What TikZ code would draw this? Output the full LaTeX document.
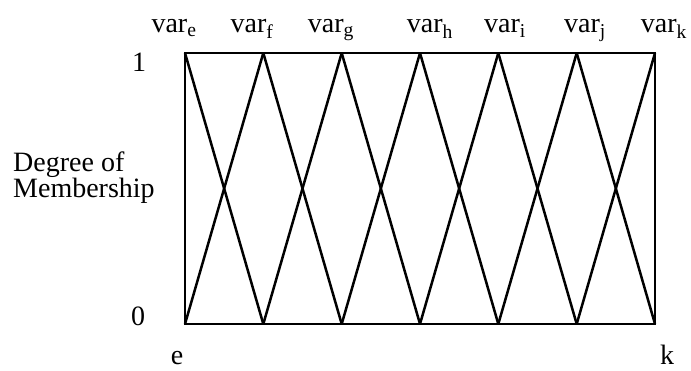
\documentclass[tikz,border=0pt]{standalone}
\usepackage{fontspec}
\setmainfont{Liberation Serif}
\begin{document}
\begin{tikzpicture}[x=1pt,y=1pt,
  lbl/.style={font=\fontsize{28}{30}\selectfont, inner sep=0pt, anchor=base},
  mf/.style={line width=2.5pt, line join=miter}]
\useasboundingbox (0,0) rectangle (691,370);
% peaks
\foreach \i/\x in {0/185,1/263.3,2/341.7,3/420,4/498.3,5/576.7,6/655}{
  \coordinate (t\i) at (\x,317);
  \coordinate (b\i) at (\x,46);
}
\draw[mf] (t0) -- (t6) -- (b6) -- (b0) -- cycle;
\foreach \i/\j in {0/1,1/2,2/3,3/4,4/5,5/6}{
  \draw[mf] (t\i) -- (b\j);
  \draw[mf] (b\i) -- (t\j);
}
% top labels
\node[lbl] (le) at (174,337) {var\textsubscript{e}};
\node[lbl] (lf) at (252,337) {var\textsubscript{f}};
\node[lbl] (lg) at (331,337) {var\textsubscript{g}};
\node[lbl] (lh) at (430,337) {var\textsubscript{h}};
\node[lbl] (li) at (505,337) {var\textsubscript{i}};
\node[lbl] (lj) at (585,337) {var\textsubscript{j}};
\node[lbl] (lk) at (664,337) {var\textsubscript{k}};
% axis labels
\node[lbl] (one) at (139,298) {1};
\node[lbl] (zero) at (138,45) {0};
\node[lbl] (ee) at (177,6) {e};
\node[lbl] (kk) at (667,6) {k};
\node[lbl, anchor=base west] (deg) at (13,198) {Degree of};
\node[lbl, anchor=base west] (mem) at (13,172) {Membership};
\end{tikzpicture}
\end{document}
